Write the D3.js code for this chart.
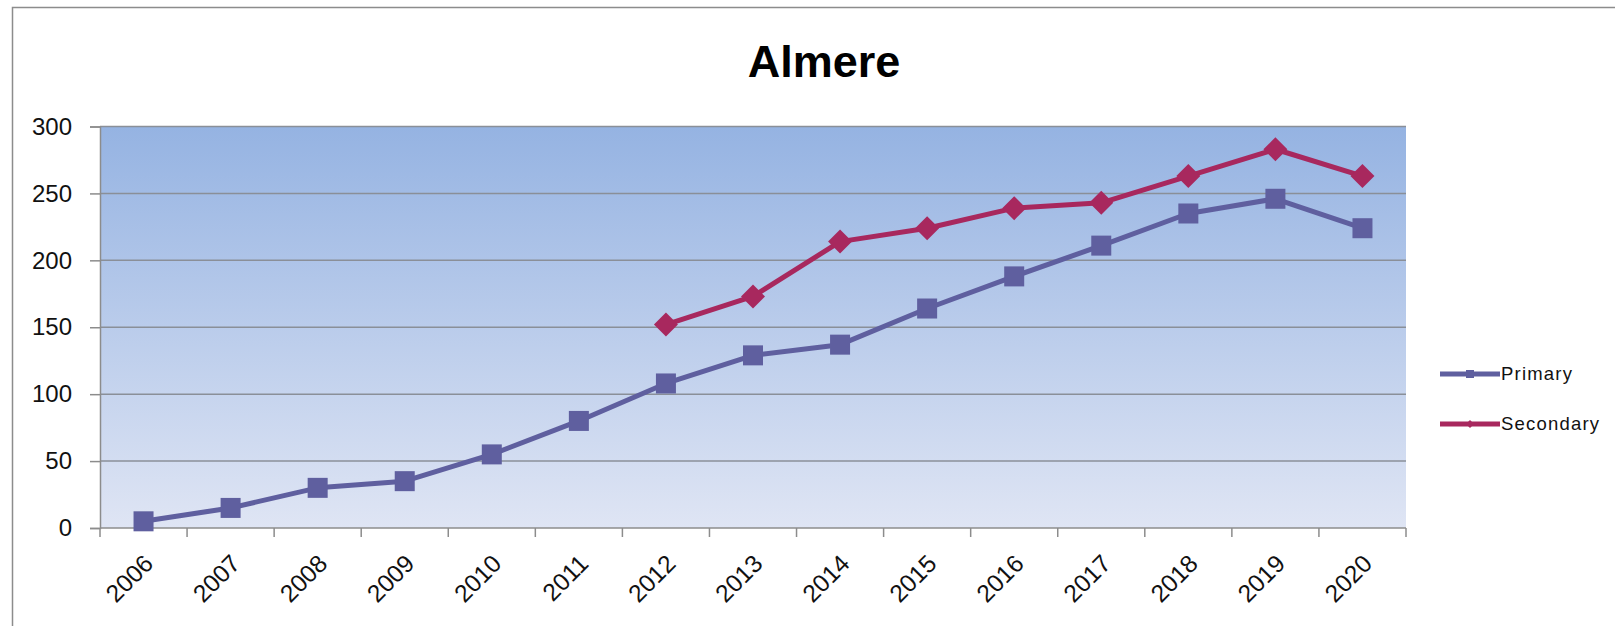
<!DOCTYPE html>
<html>
<head>
<meta charset="utf-8">
<script src="https://cdn.jsdelivr.net/npm/d3@7"></script>
<style>
  html, body { margin: 0; padding: 0; background: #fff; }
  svg { display: block; }
</style>
</head>
<body>
<svg id="chart" width="1615" height="626"></svg>
<script>
const title = "Almere";
const years = ["2006","2007","2008","2009","2010","2011","2012","2013","2014","2015","2016","2017","2018","2019","2020"];
const primary = [5, 15, 30, 35, 55, 80, 108, 129, 137, 164, 188, 211, 235, 246, 224];
const secondary = [null, null, null, null, null, null, 152, 173, 214, 224, 239, 243, 263, 283, 263];
const yTicks = [0, 50, 100, 150, 200, 250, 300];
const seriesNames = ["Primary", "Secondary"];

const W = 1615, H = 626;
const plot = { left: 100, right: 1406, top: 126.5, bottom: 528 };
const svg = d3.select("#chart");
const FONT = "'Liberation Sans', Arial, sans-serif";

// outer chart border (extends beyond the visible area on right/bottom)
svg.append("rect").attr("x", 12.5).attr("y", 7.5).attr("width", W + 20).attr("height", H + 20)
  .attr("fill", "#fff").attr("stroke", "#8c8c8c").attr("stroke-width", 1.5);

const defs = svg.append("defs");
const grad = defs.append("linearGradient").attr("id", "bg").attr("x1", 0).attr("y1", 0).attr("x2", 0).attr("y2", 1);
grad.append("stop").attr("offset", "0%").attr("stop-color", "#95b3e2");
grad.append("stop").attr("offset", "100%").attr("stop-color", "#dfe5f4");

const x = d3.scaleBand().domain(years).range([plot.left, plot.right]).padding(0);
const y = d3.scaleLinear().domain([0, 300]).range([plot.bottom, plot.top]);

svg.append("rect").attr("x", plot.left).attr("y", plot.top)
  .attr("width", plot.right - plot.left).attr("height", plot.bottom - plot.top)
  .attr("fill", "url(#bg)");

// gridlines
svg.append("g").selectAll("line").data(yTicks.filter(d => d > 0)).join("line")
  .attr("x1", plot.left).attr("x2", plot.right)
  .attr("y1", d => y(d)).attr("y2", d => y(d))
  .attr("stroke", "#8a8f98").attr("stroke-width", 1.5);

// Y axis
const yAxis = svg.append("g").attr("transform", `translate(${plot.left},0)`)
  .call(d3.axisLeft(y).tickValues(yTicks).tickSize(10).tickPadding(18));
yAxis.select(".domain").attr("stroke", "#8c8c8c").attr("stroke-width", 1.5);
yAxis.selectAll(".tick line").attr("stroke", "#8c8c8c").attr("stroke-width", 1.5);
yAxis.selectAll("text").attr("font-family", FONT).attr("font-size", 24).attr("fill", "#111");

// X axis with boundary ticks
const xAxisG = svg.append("g").attr("transform", `translate(0,${plot.bottom})`);
xAxisG.append("line").attr("x1", plot.left).attr("x2", plot.right).attr("y1", 0).attr("y2", 0)
  .attr("stroke", "#8c8c8c").attr("stroke-width", 1.5);
const bounds = years.map(d => x(d)).concat([plot.right]);
xAxisG.selectAll("line.tk").data(bounds).join("line").attr("class", "tk")
  .attr("x1", d => d).attr("x2", d => d).attr("y1", 0).attr("y2", 9)
  .attr("stroke", "#8c8c8c").attr("stroke-width", 1.5);
xAxisG.selectAll("text").data(years).join("text")
  .attr("transform", d => `translate(${x(d) + x.bandwidth() / 2 - 1},${25}) rotate(-45)`)
  .attr("text-anchor", "end").attr("dy", "0.7em")
  .attr("font-family", FONT).attr("font-size", 24.5).attr("fill", "#111")
  .text(d => d);

// title
svg.append("text").attr("x", 824).attr("y", 77).attr("text-anchor", "middle")
  .attr("font-family", FONT).attr("font-weight", "bold").attr("font-size", 45).attr("fill", "#000")
  .text(title);

const cx = d => x(d) + x.bandwidth() / 2;
const colors = ["#5f5f9f", "#a8285e"];

// Primary
const pData = years.map((yr, i) => ({ yr, v: primary[i] }));
svg.append("path").datum(pData)
  .attr("d", d3.line().defined(d => d.v != null).x(d => cx(d.yr)).y(d => y(d.v)))
  .attr("fill", "none").attr("stroke", colors[0]).attr("stroke-width", 5).attr("stroke-linejoin", "round");
svg.append("g").selectAll("rect").data(pData.filter(d => d.v != null)).join("rect")
  .attr("x", d => cx(d.yr) - 10).attr("y", d => y(d.v) - 10)
  .attr("width", 20).attr("height", 20).attr("fill", colors[0]);

// Secondary
const sData = years.map((yr, i) => ({ yr, v: secondary[i] }));
svg.append("path").datum(sData)
  .attr("d", d3.line().defined(d => d.v != null).x(d => cx(d.yr)).y(d => y(d.v)))
  .attr("fill", "none").attr("stroke", colors[1]).attr("stroke-width", 5).attr("stroke-linejoin", "round");
svg.append("g").selectAll("path").data(sData.filter(d => d.v != null)).join("path")
  .attr("transform", d => `translate(${cx(d.yr)},${y(d.v)})`)
  .attr("d", "M0,-12L12,0L0,12L-12,0Z").attr("fill", colors[1]);

// Legend
const legend = svg.append("g");
const ly = [374, 424];
seriesNames.forEach((name, i) => {
  const g = legend.append("g").attr("transform", `translate(0,${ly[i]})`);
  g.append("line").attr("x1", 1440).attr("x2", 1500).attr("y1", 0).attr("y2", 0)
    .attr("stroke", colors[i]).attr("stroke-width", 5);
  if (i === 0) {
    g.append("rect").attr("x", 1466).attr("y", -4).attr("width", 8).attr("height", 8).attr("fill", colors[0]);
  } else {
    g.append("path").attr("transform", "translate(1470,0)").attr("d", "M0,-4L4,0L0,4L-4,0Z").attr("fill", colors[1]);
  }
  g.append("text").attr("x", 1501).attr("y", 0).attr("dy", "0.35em")
    .attr("font-family", FONT).attr("font-size", 18.5).attr("letter-spacing", 1.2).attr("fill", "#111")
    .text(name);
});
</script>
</body>
</html>
